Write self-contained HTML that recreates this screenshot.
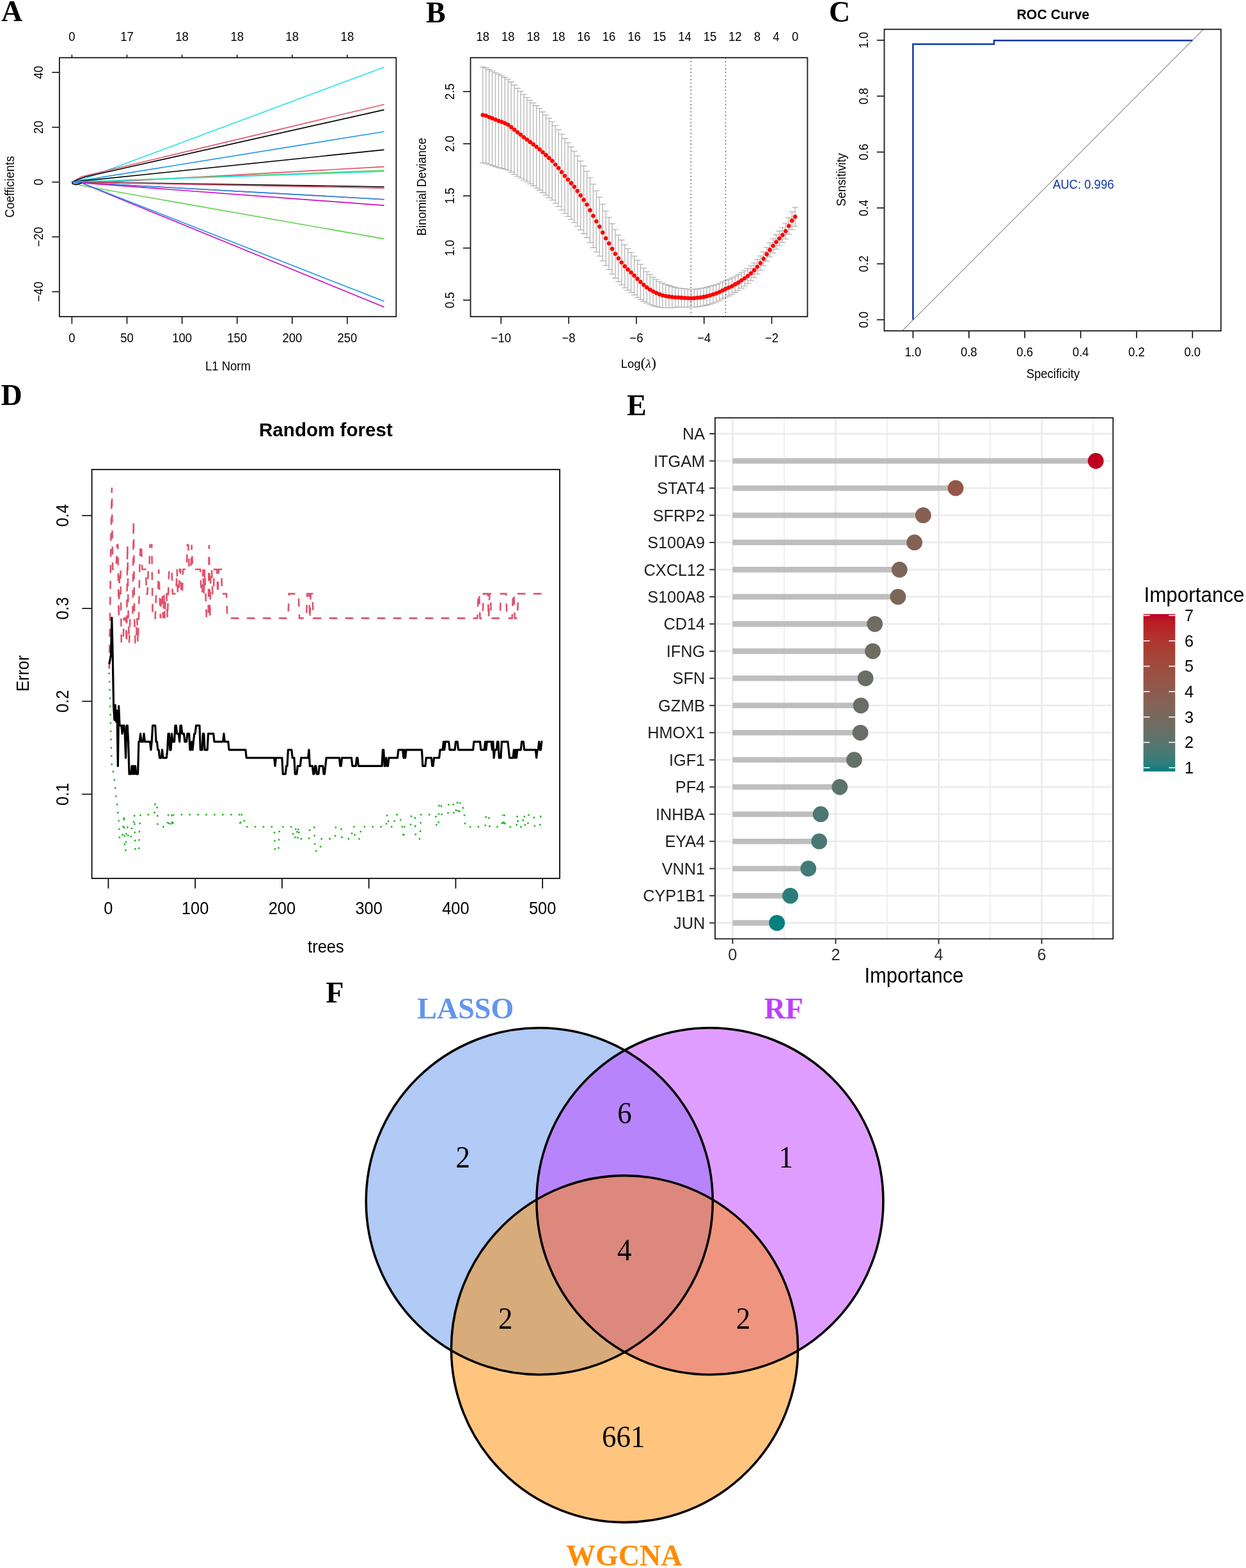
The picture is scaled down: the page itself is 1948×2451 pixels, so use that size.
<!DOCTYPE html>
<html><head><meta charset="utf-8"><title>Figure</title>
<style>html,body{margin:0;padding:0;background:#fff;}svg{display:block;}</style></head>
<body><svg width="1948" height="2451" viewBox="0 0 1948 2451">
<rect width="1948" height="2451" fill="#fff"/>
<text x="2.0" y="32.8" font-family="Liberation Serif, Times New Roman, serif" font-size="46" text-anchor="start" fill="#000" font-weight="bold">A</text>
<line x1="112.40" y1="494.90" x2="112.40" y2="506.20" stroke="#000" stroke-width="1.5"/>
<text transform="translate(112.40 534.60) scale(1 1.05)" font-family="Liberation Sans, Arial, sans-serif" font-size="18.5" text-anchor="middle" fill="#000">0</text>
<line x1="112.40" y1="90.20" x2="112.40" y2="85.60" stroke="#000" stroke-width="1.5"/>
<text transform="translate(112.40 63.90) scale(1 1.05)" font-family="Liberation Sans, Arial, sans-serif" font-size="18.5" text-anchor="middle" fill="#000">0</text>
<line x1="198.50" y1="494.90" x2="198.50" y2="506.20" stroke="#000" stroke-width="1.5"/>
<text transform="translate(198.50 534.60) scale(1 1.05)" font-family="Liberation Sans, Arial, sans-serif" font-size="18.5" text-anchor="middle" fill="#000">50</text>
<line x1="198.50" y1="90.20" x2="198.50" y2="85.60" stroke="#000" stroke-width="1.5"/>
<text transform="translate(198.50 63.90) scale(1 1.05)" font-family="Liberation Sans, Arial, sans-serif" font-size="18.5" text-anchor="middle" fill="#000">17</text>
<line x1="284.60" y1="494.90" x2="284.60" y2="506.20" stroke="#000" stroke-width="1.5"/>
<text transform="translate(284.60 534.60) scale(1 1.05)" font-family="Liberation Sans, Arial, sans-serif" font-size="18.5" text-anchor="middle" fill="#000">100</text>
<line x1="284.60" y1="90.20" x2="284.60" y2="85.60" stroke="#000" stroke-width="1.5"/>
<text transform="translate(284.60 63.90) scale(1 1.05)" font-family="Liberation Sans, Arial, sans-serif" font-size="18.5" text-anchor="middle" fill="#000">18</text>
<line x1="370.70" y1="494.90" x2="370.70" y2="506.20" stroke="#000" stroke-width="1.5"/>
<text transform="translate(370.70 534.60) scale(1 1.05)" font-family="Liberation Sans, Arial, sans-serif" font-size="18.5" text-anchor="middle" fill="#000">150</text>
<line x1="370.70" y1="90.20" x2="370.70" y2="85.60" stroke="#000" stroke-width="1.5"/>
<text transform="translate(370.70 63.90) scale(1 1.05)" font-family="Liberation Sans, Arial, sans-serif" font-size="18.5" text-anchor="middle" fill="#000">18</text>
<line x1="456.80" y1="494.90" x2="456.80" y2="506.20" stroke="#000" stroke-width="1.5"/>
<text transform="translate(456.80 534.60) scale(1 1.05)" font-family="Liberation Sans, Arial, sans-serif" font-size="18.5" text-anchor="middle" fill="#000">200</text>
<line x1="456.80" y1="90.20" x2="456.80" y2="85.60" stroke="#000" stroke-width="1.5"/>
<text transform="translate(456.80 63.90) scale(1 1.05)" font-family="Liberation Sans, Arial, sans-serif" font-size="18.5" text-anchor="middle" fill="#000">18</text>
<line x1="542.90" y1="494.90" x2="542.90" y2="506.20" stroke="#000" stroke-width="1.5"/>
<text transform="translate(542.90 534.60) scale(1 1.05)" font-family="Liberation Sans, Arial, sans-serif" font-size="18.5" text-anchor="middle" fill="#000">250</text>
<line x1="542.90" y1="90.20" x2="542.90" y2="85.60" stroke="#000" stroke-width="1.5"/>
<text transform="translate(542.90 63.90) scale(1 1.05)" font-family="Liberation Sans, Arial, sans-serif" font-size="18.5" text-anchor="middle" fill="#000">18</text>
<line x1="81.30" y1="113.20" x2="92.90" y2="113.20" stroke="#000" stroke-width="1.5"/>
<text transform="translate(67.00 113.20) rotate(-90) scale(1 1.05)" font-family="Liberation Sans, Arial, sans-serif" font-size="18.5" text-anchor="middle" fill="#000">40</text>
<line x1="81.30" y1="198.90" x2="92.90" y2="198.90" stroke="#000" stroke-width="1.5"/>
<text transform="translate(67.00 198.90) rotate(-90) scale(1 1.05)" font-family="Liberation Sans, Arial, sans-serif" font-size="18.5" text-anchor="middle" fill="#000">20</text>
<line x1="81.30" y1="284.60" x2="92.90" y2="284.60" stroke="#000" stroke-width="1.5"/>
<text transform="translate(67.00 284.60) rotate(-90) scale(1 1.05)" font-family="Liberation Sans, Arial, sans-serif" font-size="18.5" text-anchor="middle" fill="#000">0</text>
<line x1="81.30" y1="370.30" x2="92.90" y2="370.30" stroke="#000" stroke-width="1.5"/>
<text transform="translate(67.00 370.30) rotate(-90) scale(1 1.05)" font-family="Liberation Sans, Arial, sans-serif" font-size="18.5" text-anchor="middle" fill="#000">−20</text>
<line x1="81.30" y1="456.00" x2="92.90" y2="456.00" stroke="#000" stroke-width="1.5"/>
<text transform="translate(67.00 456.00) rotate(-90) scale(1 1.05)" font-family="Liberation Sans, Arial, sans-serif" font-size="18.5" text-anchor="middle" fill="#000">−40</text>
<text transform="translate(22.40 292.00) rotate(-90) scale(1 1.05)" font-family="Liberation Sans, Arial, sans-serif" font-size="18.5" text-anchor="middle" fill="#000">Coefficients</text>
<text transform="translate(356.40 579.10) scale(1 1.05)" font-family="Liberation Sans, Arial, sans-serif" font-size="18.5" text-anchor="middle" fill="#000">L1 Norm</text>
<polyline points="112.40,284.60 121.00,283.60 600.60,104.90" fill="none" stroke="#28E2E5" stroke-width="1.6" stroke-linejoin="round"/>
<polyline points="112.40,284.60 128.00,276.00 600.60,163.20" fill="none" stroke="#DF536B" stroke-width="1.6" stroke-linejoin="round"/>
<polyline points="112.40,284.60 133.00,276.50 600.60,171.60" fill="none" stroke="#000000" stroke-width="1.6" stroke-linejoin="round"/>
<polyline points="112.40,284.60 600.60,205.70" fill="none" stroke="#2297E6" stroke-width="1.6" stroke-linejoin="round"/>
<polyline points="112.40,284.60 600.60,234.10" fill="none" stroke="#000000" stroke-width="1.6" stroke-linejoin="round"/>
<polyline points="112.40,284.60 170.00,284.60 600.60,260.60" fill="none" stroke="#DF536B" stroke-width="1.6" stroke-linejoin="round"/>
<polyline points="112.40,284.60 600.60,266.40" fill="none" stroke="#61D04F" stroke-width="1.6" stroke-linejoin="round"/>
<polyline points="112.40,284.60 600.60,268.00" fill="none" stroke="#28E2E5" stroke-width="1.6" stroke-linejoin="round"/>
<polyline points="112.40,284.60 150.00,285.00 600.60,292.00" fill="none" stroke="#000000" stroke-width="1.6" stroke-linejoin="round"/>
<polyline points="112.40,284.60 600.60,294.10" fill="none" stroke="#DF536B" stroke-width="1.6" stroke-linejoin="round"/>
<polyline points="112.40,284.60 600.60,311.70" fill="none" stroke="#CD0BBC" stroke-width="1.6" stroke-linejoin="round"/>
<polyline points="112.40,284.60 600.60,311.70" fill="none" stroke="#2297E6" stroke-width="1.6" stroke-linejoin="round"/>
<polyline points="112.40,284.60 600.60,321.10" fill="none" stroke="#CD0BBC" stroke-width="1.6" stroke-linejoin="round"/>
<polyline points="112.40,284.60 126.00,289.80 600.60,373.40" fill="none" stroke="#61D04F" stroke-width="1.6" stroke-linejoin="round"/>
<polyline points="112.40,284.60 128.00,286.30 600.60,480.00" fill="none" stroke="#CD0BBC" stroke-width="1.6" stroke-linejoin="round"/>
<polyline points="112.40,284.60 128.00,286.00 600.60,471.10" fill="none" stroke="#2297E6" stroke-width="1.6" stroke-linejoin="round"/>
<polyline points="112.40,284.60 114.00,287.50 118.00,288.60 123.00,287.80 128.00,286.00" fill="none" stroke="#000" stroke-width="1.6" stroke-linejoin="round"/>
<rect x="92.90" y="90.20" width="526.50" height="404.70" fill="none" stroke="#222" stroke-width="1.9"/>
<text x="666.0" y="34.9" font-family="Liberation Serif, Times New Roman, serif" font-size="46" text-anchor="start" fill="#000" font-weight="bold">B</text>
<line x1="783.30" y1="494.90" x2="783.30" y2="506.20" stroke="#000" stroke-width="1.5"/>
<text transform="translate(783.30 534.60) scale(1 1.05)" font-family="Liberation Sans, Arial, sans-serif" font-size="18.5" text-anchor="middle" fill="#000">−10</text>
<line x1="889.10" y1="494.90" x2="889.10" y2="506.20" stroke="#000" stroke-width="1.5"/>
<text transform="translate(889.10 534.60) scale(1 1.05)" font-family="Liberation Sans, Arial, sans-serif" font-size="18.5" text-anchor="middle" fill="#000">−8</text>
<line x1="994.90" y1="494.90" x2="994.90" y2="506.20" stroke="#000" stroke-width="1.5"/>
<text transform="translate(994.90 534.60) scale(1 1.05)" font-family="Liberation Sans, Arial, sans-serif" font-size="18.5" text-anchor="middle" fill="#000">−6</text>
<line x1="1100.70" y1="494.90" x2="1100.70" y2="506.20" stroke="#000" stroke-width="1.5"/>
<text transform="translate(1100.70 534.60) scale(1 1.05)" font-family="Liberation Sans, Arial, sans-serif" font-size="18.5" text-anchor="middle" fill="#000">−4</text>
<line x1="1206.50" y1="494.90" x2="1206.50" y2="506.20" stroke="#000" stroke-width="1.5"/>
<text transform="translate(1206.50 534.60) scale(1 1.05)" font-family="Liberation Sans, Arial, sans-serif" font-size="18.5" text-anchor="middle" fill="#000">−2</text>
<line x1="724.00" y1="469.20" x2="735.60" y2="469.20" stroke="#000" stroke-width="1.5"/>
<text transform="translate(709.50 469.20) rotate(-90) scale(1 1.05)" font-family="Liberation Sans, Arial, sans-serif" font-size="18.5" text-anchor="middle" fill="#000">0.5</text>
<line x1="724.00" y1="387.70" x2="735.60" y2="387.70" stroke="#000" stroke-width="1.5"/>
<text transform="translate(709.50 387.70) rotate(-90) scale(1 1.05)" font-family="Liberation Sans, Arial, sans-serif" font-size="18.5" text-anchor="middle" fill="#000">1.0</text>
<line x1="724.00" y1="306.20" x2="735.60" y2="306.20" stroke="#000" stroke-width="1.5"/>
<text transform="translate(709.50 306.20) rotate(-90) scale(1 1.05)" font-family="Liberation Sans, Arial, sans-serif" font-size="18.5" text-anchor="middle" fill="#000">1.5</text>
<line x1="724.00" y1="224.70" x2="735.60" y2="224.70" stroke="#000" stroke-width="1.5"/>
<text transform="translate(709.50 224.70) rotate(-90) scale(1 1.05)" font-family="Liberation Sans, Arial, sans-serif" font-size="18.5" text-anchor="middle" fill="#000">2.0</text>
<line x1="724.00" y1="143.20" x2="735.60" y2="143.20" stroke="#000" stroke-width="1.5"/>
<text transform="translate(709.50 143.20) rotate(-90) scale(1 1.05)" font-family="Liberation Sans, Arial, sans-serif" font-size="18.5" text-anchor="middle" fill="#000">2.5</text>
<text transform="translate(666.00 292.00) rotate(-90) scale(1 1.05)" font-family="Liberation Sans, Arial, sans-serif" font-size="18.5" text-anchor="middle" fill="#000">Binomial Deviance</text>
<text x="998.4" y="574.9" font-family="Liberation Sans, Arial, sans-serif" font-size="18.5" text-anchor="middle" fill="#000">Log<tspan font-family="Liberation Serif, Times New Roman, serif" font-size="24">(</tspan><tspan font-family="Liberation Serif, Times New Roman, serif" font-style="italic" font-size="19.5">λ</tspan><tspan font-family="Liberation Serif, Times New Roman, serif" font-size="24">)</tspan></text>
<path d="M754.80,104.72V254.72M749.90,104.72H759.70M749.90,254.72H759.70M759.73,106.23V255.47M754.83,106.23H764.63M754.83,255.47H764.63M764.66,108.73V257.21M759.76,108.73H769.56M759.76,257.21H769.56M769.60,111.05V258.77M764.70,111.05H774.50M764.70,258.77H774.50M774.53,113.55V260.51M769.63,113.55H779.43M769.63,260.51H779.43M779.46,115.87V262.07M774.56,115.87H784.36M774.56,262.07H784.36M784.39,118.16V263.04M779.49,118.16H789.29M779.49,263.04H789.29M789.33,120.77V264.33M784.43,120.77H794.23M784.43,264.33H794.23M794.26,123.86V266.10M789.36,123.86H799.16M789.36,266.10H799.16M799.19,128.26V269.18M794.29,128.26H804.09M794.29,269.18H804.09M804.12,132.98V272.58M799.22,132.98H809.02M799.22,272.58H809.02M809.06,138.01V275.66M804.16,138.01H813.96M804.16,275.66H813.96M813.99,142.72V278.42M809.09,142.72H818.89M809.09,278.42H818.89M818.92,147.59V281.34M814.02,147.59H823.82M814.02,281.34H823.82M823.85,152.30V284.10M818.95,152.30H828.75M818.95,284.10H828.75M828.78,156.57V287.31M823.88,156.57H833.68M823.88,287.31H833.68M833.72,160.84V290.51M828.82,160.84H838.62M828.82,290.51H838.62M838.65,165.27V293.87M833.75,165.27H843.55M833.75,293.87H843.55M843.58,169.70V297.24M838.68,169.70H848.48M838.68,297.24H848.48M848.51,174.78V301.25M843.61,174.78H853.41M843.61,301.25H853.41M853.45,179.70V305.10M848.55,179.70H858.35M848.55,305.10H858.35M858.38,184.91V308.99M853.48,184.91H863.28M853.48,308.99H863.28M863.31,190.11V312.87M858.41,190.11H868.21M858.41,312.87H868.21M868.24,196.46V317.90M863.34,196.46H873.14M863.34,317.90H873.14M873.18,202.80V322.92M868.28,202.80H878.08M868.28,322.92H878.08M878.11,209.63V328.43M873.21,209.63H883.01M873.21,328.43H883.01M883.04,216.52V333.56M878.14,216.52H887.94M878.14,333.56H887.94M887.97,223.08V338.36M883.07,223.08H892.87M883.07,338.36H892.87M892.90,229.65V343.17M888.00,229.65H897.80M888.00,343.17H897.80M897.84,236.21V347.97M892.94,236.21H902.74M892.94,347.97H902.74M902.77,243.59V353.59M897.87,243.59H907.67M897.87,353.59H907.67M907.70,251.63V359.51M902.80,251.63H912.60M902.80,359.51H912.60M912.63,259.51V365.27M907.73,259.51H917.53M907.73,365.27H917.53M917.57,267.88V371.52M912.67,267.88H922.47M912.67,371.52H922.47M922.50,277.87V379.39M917.60,277.87H927.40M917.60,379.39H927.40M927.43,287.86V387.26M922.53,287.86H932.33M922.53,387.26H932.33M932.36,298.09V393.93M927.46,298.09H937.26M927.46,393.93H937.26M937.30,308.15V400.43M932.40,308.15H942.20M932.40,400.43H942.20M942.23,319.18V407.90M937.33,319.18H947.13M937.33,407.90H947.13M947.16,329.89V415.05M942.26,329.89H952.06M942.26,415.05H952.06M952.09,339.79V421.39M947.19,339.79H956.99M947.19,421.39H956.99M957.02,349.68V428.40M952.12,349.68H961.92M952.12,428.40H961.92M961.96,358.91V434.75M957.06,358.91H966.86M957.06,434.75H966.86M966.89,367.34V440.30M961.99,367.34H971.79M961.99,440.30H971.79M971.82,375.27V445.35M966.92,375.27H976.72M966.92,445.35H976.72M976.75,382.72V449.92M971.85,382.72H981.65M971.85,449.92H981.65M981.69,388.69V453.69M976.79,388.69H986.59M976.79,453.69H986.59M986.62,394.66V457.46M981.72,394.66H991.52M981.72,457.46H991.52M991.55,400.46V461.06M986.65,400.46H996.45M986.65,461.06H996.45M996.48,406.69V465.09M991.58,406.69H1001.38M991.58,465.09H1001.38M1001.41,413.07V468.34M996.51,413.07H1006.31M996.51,468.34H1006.31M1006.35,419.13V471.26M1001.45,419.13H1011.25M1001.45,471.26H1011.25M1011.28,424.71V473.71M1006.38,424.71H1016.18M1006.38,473.71H1016.18M1016.21,429.36V476.11M1011.31,429.36H1021.11M1011.31,476.11H1021.11M1021.14,433.37V477.87M1016.24,433.37H1026.04M1016.24,477.87H1026.04M1026.08,436.90V479.15M1021.18,436.90H1030.98M1021.18,479.15H1030.98M1031.01,440.12V480.12M1026.11,440.12H1035.91M1026.11,480.12H1035.91M1035.94,442.59V480.85M1031.04,442.59H1040.84M1031.04,480.85H1040.84M1040.87,444.58V481.11M1035.97,444.58H1045.77M1035.97,481.11H1045.77M1045.81,446.25V481.05M1040.91,446.25H1050.71M1040.91,481.05H1050.71M1050.74,447.75V480.82M1045.84,447.75H1055.64M1045.84,480.82H1055.64M1055.67,449.10V480.43M1050.77,449.10H1060.57M1050.77,480.43H1060.57M1060.60,450.29V479.89M1055.70,450.29H1065.50M1055.70,479.89H1065.50M1065.53,450.81V480.01M1060.63,450.81H1070.43M1060.63,480.01H1070.43M1070.47,451.33V480.13M1065.57,451.33H1075.37M1065.57,480.13H1075.37M1075.40,451.85V480.25M1070.50,451.85H1080.30M1070.50,480.25H1080.30M1080.33,452.21V480.21M1075.43,452.21H1085.23M1075.43,480.21H1085.23M1085.26,452.05V480.05M1080.36,452.05H1090.16M1080.36,480.05H1090.16M1090.20,451.57V479.57M1085.30,451.57H1095.10M1085.30,479.57H1095.10M1095.13,450.93V478.93M1090.23,450.93H1100.03M1090.23,478.93H1100.03M1100.06,450.13V478.13M1095.16,450.13H1104.96M1095.16,478.13H1104.96M1104.99,449.00V477.00M1100.09,449.00H1109.89M1100.09,477.00H1109.89M1109.93,447.72V475.72M1105.03,447.72H1114.83M1105.03,475.72H1114.83M1114.86,446.44V474.11M1109.96,446.44H1119.76M1109.96,474.11H1119.76M1119.79,444.84V472.18M1114.89,444.84H1124.69M1114.89,472.18H1124.69M1124.72,442.93V469.93M1119.82,442.93H1129.62M1119.82,469.93H1129.62M1129.65,440.69V467.35M1124.75,440.69H1134.55M1124.75,467.35H1134.55M1134.59,438.45V464.78M1129.69,438.45H1139.49M1129.69,464.78H1139.49M1139.52,436.53V462.53M1134.62,436.53H1144.42M1134.62,462.53H1144.42M1144.45,434.48V460.08M1139.55,434.48H1149.35M1139.55,460.08H1149.35M1149.38,431.79V456.99M1144.48,431.79H1154.28M1144.48,456.99H1154.28M1154.32,429.27V454.07M1149.42,429.27H1159.22M1149.42,454.07H1159.22M1159.25,426.10V450.50M1154.35,426.10H1164.15M1154.35,450.50H1164.15M1164.18,423.09V447.09M1159.28,423.09H1169.08M1159.28,447.09H1169.08M1169.11,419.76V443.36M1164.21,419.76H1174.01M1164.21,443.36H1174.01M1174.05,415.63V438.83M1169.15,415.63H1178.95M1169.15,438.83H1178.95M1178.98,410.97V433.85M1174.08,410.97H1183.88M1174.08,433.85H1183.88M1183.91,405.84V428.40M1179.01,405.84H1188.81M1179.01,428.40H1188.81M1188.84,400.06V422.30M1183.94,400.06H1193.74M1183.94,422.30H1193.74M1193.77,393.64V415.56M1188.87,393.64H1198.67M1188.87,415.56H1198.67M1198.71,386.58V408.18M1193.81,386.58H1203.61M1193.81,408.18H1203.61M1203.64,379.69V401.61M1198.74,379.69H1208.54M1198.74,401.61H1208.54M1208.57,373.11V395.35M1203.67,373.11H1213.47M1203.67,395.35H1213.47M1213.50,367.01V389.57M1208.60,367.01H1218.40M1208.60,389.57H1218.40M1218.44,361.24V384.12M1213.54,361.24H1223.34M1213.54,384.12H1223.34M1223.37,355.78V378.98M1218.47,355.78H1228.27M1218.47,378.98H1228.27M1228.30,348.89V373.69M1223.40,348.89H1233.20M1223.40,373.69H1233.20M1233.23,340.06V366.46M1228.33,340.06H1238.13M1228.33,366.46H1238.13M1238.17,330.92V358.92M1233.27,330.92H1243.07M1233.27,358.92H1243.07M1243.10,324.03V353.63M1238.20,324.03H1248.00M1238.20,353.63H1248.00" stroke="#B4B4B4" stroke-width="1.3" fill="none"/>
<line x1="1080.20" y1="90.20" x2="1080.20" y2="494.90" stroke="#333" stroke-width="1.4" stroke-dasharray="1.4 4.2"/>
<line x1="1134.40" y1="90.20" x2="1134.40" y2="494.90" stroke="#333" stroke-width="1.4" stroke-dasharray="1.4 4.2"/>
<g fill="#FF0000"><circle cx="754.80" cy="179.72" r="3.3"/><circle cx="759.73" cy="180.85" r="3.3"/><circle cx="764.66" cy="182.97" r="3.3"/><circle cx="769.60" cy="184.91" r="3.3"/><circle cx="774.53" cy="187.03" r="3.3"/><circle cx="779.46" cy="188.97" r="3.3"/><circle cx="784.39" cy="190.60" r="3.3"/><circle cx="789.33" cy="192.55" r="3.3"/><circle cx="794.26" cy="194.98" r="3.3"/><circle cx="799.19" cy="198.72" r="3.3"/><circle cx="804.12" cy="202.78" r="3.3"/><circle cx="809.06" cy="206.84" r="3.3"/><circle cx="813.99" cy="210.57" r="3.3"/><circle cx="818.92" cy="214.47" r="3.3"/><circle cx="823.85" cy="218.20" r="3.3"/><circle cx="828.78" cy="221.94" r="3.3"/><circle cx="833.72" cy="225.67" r="3.3"/><circle cx="838.65" cy="229.57" r="3.3"/><circle cx="843.58" cy="233.47" r="3.3"/><circle cx="848.51" cy="238.02" r="3.3"/><circle cx="853.45" cy="242.40" r="3.3"/><circle cx="858.38" cy="246.95" r="3.3"/><circle cx="863.31" cy="251.49" r="3.3"/><circle cx="868.24" cy="257.18" r="3.3"/><circle cx="873.18" cy="262.86" r="3.3"/><circle cx="878.11" cy="269.03" r="3.3"/><circle cx="883.04" cy="275.04" r="3.3"/><circle cx="887.97" cy="280.72" r="3.3"/><circle cx="892.90" cy="286.41" r="3.3"/><circle cx="897.84" cy="292.09" r="3.3"/><circle cx="902.77" cy="298.59" r="3.3"/><circle cx="907.70" cy="305.57" r="3.3"/><circle cx="912.63" cy="312.39" r="3.3"/><circle cx="917.57" cy="319.70" r="3.3"/><circle cx="922.50" cy="328.63" r="3.3"/><circle cx="927.43" cy="337.56" r="3.3"/><circle cx="932.36" cy="346.01" r="3.3"/><circle cx="937.30" cy="354.29" r="3.3"/><circle cx="942.23" cy="363.54" r="3.3"/><circle cx="947.16" cy="372.47" r="3.3"/><circle cx="952.09" cy="380.59" r="3.3"/><circle cx="957.02" cy="389.04" r="3.3"/><circle cx="961.96" cy="396.83" r="3.3"/><circle cx="966.89" cy="403.82" r="3.3"/><circle cx="971.82" cy="410.31" r="3.3"/><circle cx="976.75" cy="416.32" r="3.3"/><circle cx="981.69" cy="421.19" r="3.3"/><circle cx="986.62" cy="426.06" r="3.3"/><circle cx="991.55" cy="430.76" r="3.3"/><circle cx="996.48" cy="435.89" r="3.3"/><circle cx="1001.41" cy="440.70" r="3.3"/><circle cx="1006.35" cy="445.19" r="3.3"/><circle cx="1011.28" cy="449.21" r="3.3"/><circle cx="1016.21" cy="452.74" r="3.3"/><circle cx="1021.14" cy="455.62" r="3.3"/><circle cx="1026.08" cy="458.03" r="3.3"/><circle cx="1031.01" cy="460.12" r="3.3"/><circle cx="1035.94" cy="461.72" r="3.3"/><circle cx="1040.87" cy="462.84" r="3.3"/><circle cx="1045.81" cy="463.65" r="3.3"/><circle cx="1050.74" cy="464.29" r="3.3"/><circle cx="1055.67" cy="464.77" r="3.3"/><circle cx="1060.60" cy="465.09" r="3.3"/><circle cx="1065.53" cy="465.41" r="3.3"/><circle cx="1070.47" cy="465.73" r="3.3"/><circle cx="1075.40" cy="466.05" r="3.3"/><circle cx="1080.33" cy="466.21" r="3.3"/><circle cx="1085.26" cy="466.05" r="3.3"/><circle cx="1090.20" cy="465.57" r="3.3"/><circle cx="1095.13" cy="464.93" r="3.3"/><circle cx="1100.06" cy="464.13" r="3.3"/><circle cx="1104.99" cy="463.00" r="3.3"/><circle cx="1109.93" cy="461.72" r="3.3"/><circle cx="1114.86" cy="460.28" r="3.3"/><circle cx="1119.79" cy="458.51" r="3.3"/><circle cx="1124.72" cy="456.43" r="3.3"/><circle cx="1129.65" cy="454.02" r="3.3"/><circle cx="1134.59" cy="451.61" r="3.3"/><circle cx="1139.52" cy="449.53" r="3.3"/><circle cx="1144.45" cy="447.28" r="3.3"/><circle cx="1149.38" cy="444.39" r="3.3"/><circle cx="1154.32" cy="441.67" r="3.3"/><circle cx="1159.25" cy="438.30" r="3.3"/><circle cx="1164.18" cy="435.09" r="3.3"/><circle cx="1169.11" cy="431.56" r="3.3"/><circle cx="1174.05" cy="427.23" r="3.3"/><circle cx="1178.98" cy="422.41" r="3.3"/><circle cx="1183.91" cy="417.12" r="3.3"/><circle cx="1188.84" cy="411.18" r="3.3"/><circle cx="1193.77" cy="404.60" r="3.3"/><circle cx="1198.71" cy="397.38" r="3.3"/><circle cx="1203.64" cy="390.65" r="3.3"/><circle cx="1208.57" cy="384.23" r="3.3"/><circle cx="1213.50" cy="378.29" r="3.3"/><circle cx="1218.44" cy="372.68" r="3.3"/><circle cx="1223.37" cy="367.38" r="3.3"/><circle cx="1228.30" cy="361.29" r="3.3"/><circle cx="1233.23" cy="353.26" r="3.3"/><circle cx="1238.17" cy="344.92" r="3.3"/><circle cx="1243.10" cy="338.83" r="3.3"/></g>
<text transform="translate(754.80 63.90) scale(1 1.05)" font-family="Liberation Sans, Arial, sans-serif" font-size="18.5" text-anchor="middle" fill="#000">18</text>
<text transform="translate(794.26 63.90) scale(1 1.05)" font-family="Liberation Sans, Arial, sans-serif" font-size="18.5" text-anchor="middle" fill="#000">18</text>
<text transform="translate(833.72 63.90) scale(1 1.05)" font-family="Liberation Sans, Arial, sans-serif" font-size="18.5" text-anchor="middle" fill="#000">18</text>
<text transform="translate(873.18 63.90) scale(1 1.05)" font-family="Liberation Sans, Arial, sans-serif" font-size="18.5" text-anchor="middle" fill="#000">18</text>
<text transform="translate(912.63 63.90) scale(1 1.05)" font-family="Liberation Sans, Arial, sans-serif" font-size="18.5" text-anchor="middle" fill="#000">16</text>
<text transform="translate(952.09 63.90) scale(1 1.05)" font-family="Liberation Sans, Arial, sans-serif" font-size="18.5" text-anchor="middle" fill="#000">16</text>
<text transform="translate(991.55 63.90) scale(1 1.05)" font-family="Liberation Sans, Arial, sans-serif" font-size="18.5" text-anchor="middle" fill="#000">16</text>
<text transform="translate(1031.01 63.90) scale(1 1.05)" font-family="Liberation Sans, Arial, sans-serif" font-size="18.5" text-anchor="middle" fill="#000">15</text>
<text transform="translate(1070.47 63.90) scale(1 1.05)" font-family="Liberation Sans, Arial, sans-serif" font-size="18.5" text-anchor="middle" fill="#000">14</text>
<text transform="translate(1109.93 63.90) scale(1 1.05)" font-family="Liberation Sans, Arial, sans-serif" font-size="18.5" text-anchor="middle" fill="#000">15</text>
<text transform="translate(1149.38 63.90) scale(1 1.05)" font-family="Liberation Sans, Arial, sans-serif" font-size="18.5" text-anchor="middle" fill="#000">12</text>
<text transform="translate(1183.91 63.90) scale(1 1.05)" font-family="Liberation Sans, Arial, sans-serif" font-size="18.5" text-anchor="middle" fill="#000">8</text>
<text transform="translate(1213.50 63.90) scale(1 1.05)" font-family="Liberation Sans, Arial, sans-serif" font-size="18.5" text-anchor="middle" fill="#000">4</text>
<text transform="translate(1243.10 63.90) scale(1 1.05)" font-family="Liberation Sans, Arial, sans-serif" font-size="18.5" text-anchor="middle" fill="#000">0</text>
<rect x="735.60" y="90.20" width="526.80" height="404.70" fill="none" stroke="#222" stroke-width="1.9"/>
<text x="1296.0" y="33.5" font-family="Liberation Serif, Times New Roman, serif" font-size="46" text-anchor="start" fill="#000" font-weight="bold">C</text>
<text x="1646.3" y="30.4" font-family="Liberation Sans, Arial, sans-serif" font-size="21.3" text-anchor="middle" fill="#000" font-weight="bold">ROC Curve</text>
<line x1="1427.40" y1="517.20" x2="1427.40" y2="528.60" stroke="#000" stroke-width="1.6"/>
<text transform="translate(1427.40 557.20) scale(1 1.05)" font-family="Liberation Sans, Arial, sans-serif" font-size="18.5" text-anchor="middle" fill="#000">1.0</text>
<line x1="1370.90" y1="62.90" x2="1382.50" y2="62.90" stroke="#000" stroke-width="1.5"/>
<text transform="translate(1356.50 62.90) rotate(-90) scale(1 1.05)" font-family="Liberation Sans, Arial, sans-serif" font-size="18.5" text-anchor="middle" fill="#000">1.0</text>
<line x1="1514.78" y1="517.20" x2="1514.78" y2="528.60" stroke="#000" stroke-width="1.6"/>
<text transform="translate(1514.78 557.20) scale(1 1.05)" font-family="Liberation Sans, Arial, sans-serif" font-size="18.5" text-anchor="middle" fill="#000">0.8</text>
<line x1="1370.90" y1="150.28" x2="1382.50" y2="150.28" stroke="#000" stroke-width="1.5"/>
<text transform="translate(1356.50 150.28) rotate(-90) scale(1 1.05)" font-family="Liberation Sans, Arial, sans-serif" font-size="18.5" text-anchor="middle" fill="#000">0.8</text>
<line x1="1602.16" y1="517.20" x2="1602.16" y2="528.60" stroke="#000" stroke-width="1.6"/>
<text transform="translate(1602.16 557.20) scale(1 1.05)" font-family="Liberation Sans, Arial, sans-serif" font-size="18.5" text-anchor="middle" fill="#000">0.6</text>
<line x1="1370.90" y1="237.66" x2="1382.50" y2="237.66" stroke="#000" stroke-width="1.5"/>
<text transform="translate(1356.50 237.66) rotate(-90) scale(1 1.05)" font-family="Liberation Sans, Arial, sans-serif" font-size="18.5" text-anchor="middle" fill="#000">0.6</text>
<line x1="1689.54" y1="517.20" x2="1689.54" y2="528.60" stroke="#000" stroke-width="1.6"/>
<text transform="translate(1689.54 557.20) scale(1 1.05)" font-family="Liberation Sans, Arial, sans-serif" font-size="18.5" text-anchor="middle" fill="#000">0.4</text>
<line x1="1370.90" y1="325.04" x2="1382.50" y2="325.04" stroke="#000" stroke-width="1.5"/>
<text transform="translate(1356.50 325.04) rotate(-90) scale(1 1.05)" font-family="Liberation Sans, Arial, sans-serif" font-size="18.5" text-anchor="middle" fill="#000">0.4</text>
<line x1="1776.92" y1="517.20" x2="1776.92" y2="528.60" stroke="#000" stroke-width="1.6"/>
<text transform="translate(1776.92 557.20) scale(1 1.05)" font-family="Liberation Sans, Arial, sans-serif" font-size="18.5" text-anchor="middle" fill="#000">0.2</text>
<line x1="1370.90" y1="412.42" x2="1382.50" y2="412.42" stroke="#000" stroke-width="1.5"/>
<text transform="translate(1356.50 412.42) rotate(-90) scale(1 1.05)" font-family="Liberation Sans, Arial, sans-serif" font-size="18.5" text-anchor="middle" fill="#000">0.2</text>
<line x1="1864.30" y1="517.20" x2="1864.30" y2="528.60" stroke="#000" stroke-width="1.6"/>
<text transform="translate(1864.30 557.20) scale(1 1.05)" font-family="Liberation Sans, Arial, sans-serif" font-size="18.5" text-anchor="middle" fill="#000">0.0</text>
<line x1="1370.90" y1="499.80" x2="1382.50" y2="499.80" stroke="#000" stroke-width="1.5"/>
<text transform="translate(1356.50 499.80) rotate(-90) scale(1 1.05)" font-family="Liberation Sans, Arial, sans-serif" font-size="18.5" text-anchor="middle" fill="#000">0.0</text>
<text transform="translate(1322.30 281.00) rotate(-90) scale(1 1.05)" font-family="Liberation Sans, Arial, sans-serif" font-size="18.5" text-anchor="middle" fill="#000">Sensitivity</text>
<text transform="translate(1646.30 590.50) scale(1 1.05)" font-family="Liberation Sans, Arial, sans-serif" font-size="18.5" text-anchor="middle" fill="#000">Specificity</text>
<line x1="1410.50" y1="517.20" x2="1881.50" y2="45.80" stroke="#999" stroke-width="1.3"/>
<polyline points="1427.40,499.80 1427.40,68.90 1554.10,68.90 1554.10,63.30 1864.30,63.30" fill="none" stroke="#0A36A8" stroke-width="2.5" stroke-linejoin="miter"/>
<text transform="translate(1645.90 294.50) scale(1 1.05)" font-family="Liberation Sans, Arial, sans-serif" font-size="18.5" text-anchor="start" fill="#0A36A8">AUC: 0.996</text>
<rect x="1382.50" y="45.80" width="526.30" height="471.40" fill="none" stroke="#222" stroke-width="1.9"/>
<text x="1.5" y="633.3" font-family="Liberation Serif, Times New Roman, serif" font-size="46" text-anchor="start" fill="#000" font-weight="bold">D</text>
<line x1="169.40" y1="1373.10" x2="169.40" y2="1388.80" stroke="#000" stroke-width="1.7"/>
<text transform="translate(169.40 1429.20) scale(1 1.05)" font-family="Liberation Sans, Arial, sans-serif" font-size="25.5" text-anchor="middle" fill="#000">0</text>
<line x1="305.16" y1="1373.10" x2="305.16" y2="1388.80" stroke="#000" stroke-width="1.7"/>
<text transform="translate(305.16 1429.20) scale(1 1.05)" font-family="Liberation Sans, Arial, sans-serif" font-size="25.5" text-anchor="middle" fill="#000">100</text>
<line x1="440.92" y1="1373.10" x2="440.92" y2="1388.80" stroke="#000" stroke-width="1.7"/>
<text transform="translate(440.92 1429.20) scale(1 1.05)" font-family="Liberation Sans, Arial, sans-serif" font-size="25.5" text-anchor="middle" fill="#000">200</text>
<line x1="576.68" y1="1373.10" x2="576.68" y2="1388.80" stroke="#000" stroke-width="1.7"/>
<text transform="translate(576.68 1429.20) scale(1 1.05)" font-family="Liberation Sans, Arial, sans-serif" font-size="25.5" text-anchor="middle" fill="#000">300</text>
<line x1="712.44" y1="1373.10" x2="712.44" y2="1388.80" stroke="#000" stroke-width="1.7"/>
<text transform="translate(712.44 1429.20) scale(1 1.05)" font-family="Liberation Sans, Arial, sans-serif" font-size="25.5" text-anchor="middle" fill="#000">400</text>
<line x1="848.20" y1="1373.10" x2="848.20" y2="1388.80" stroke="#000" stroke-width="1.7"/>
<text transform="translate(848.20 1429.20) scale(1 1.05)" font-family="Liberation Sans, Arial, sans-serif" font-size="25.5" text-anchor="middle" fill="#000">500</text>
<line x1="128.30" y1="1241.50" x2="143.60" y2="1241.50" stroke="#000" stroke-width="1.6"/>
<text transform="translate(107.20 1241.50) rotate(-90) scale(1 1.05)" font-family="Liberation Sans, Arial, sans-serif" font-size="25.5" text-anchor="middle" fill="#000">0.1</text>
<line x1="128.30" y1="1096.30" x2="143.60" y2="1096.30" stroke="#000" stroke-width="1.6"/>
<text transform="translate(107.20 1096.30) rotate(-90) scale(1 1.05)" font-family="Liberation Sans, Arial, sans-serif" font-size="25.5" text-anchor="middle" fill="#000">0.2</text>
<line x1="128.30" y1="951.10" x2="143.60" y2="951.10" stroke="#000" stroke-width="1.6"/>
<text transform="translate(107.20 951.10) rotate(-90) scale(1 1.05)" font-family="Liberation Sans, Arial, sans-serif" font-size="25.5" text-anchor="middle" fill="#000">0.3</text>
<line x1="128.30" y1="805.90" x2="143.60" y2="805.90" stroke="#000" stroke-width="1.6"/>
<text transform="translate(107.20 805.90) rotate(-90) scale(1 1.05)" font-family="Liberation Sans, Arial, sans-serif" font-size="25.5" text-anchor="middle" fill="#000">0.4</text>
<text x="509.4" y="681.7" font-family="Liberation Sans, Arial, sans-serif" font-size="29.6" text-anchor="middle" fill="#000" font-weight="bold">Random forest</text>
<text transform="translate(45.30 1052.60) rotate(-90) scale(1 1.05)" font-family="Liberation Sans, Arial, sans-serif" font-size="25.5" text-anchor="middle" fill="#000">Error</text>
<text transform="translate(509.40 1489.00) scale(1 1.05)" font-family="Liberation Sans, Arial, sans-serif" font-size="25.5" text-anchor="middle" fill="#000">trees</text>
<clipPath id="clipD"><rect x="143.6" y="733.9" width="731.5" height="639.2"/></clipPath>
<polyline points="170.76,1045.48 172.12,951.10 173.47,842.20 174.83,762.34 176.19,889.96 177.55,889.96 178.90,889.96 180.26,889.96 181.62,889.96 182.98,851.75 184.33,851.75 185.69,966.38 187.05,889.96 188.41,889.96 189.76,1004.59 191.12,1004.59 192.48,1004.59 193.84,966.38 195.19,966.38 196.55,966.38 197.91,1004.59 199.27,851.75 200.62,966.38 201.98,1004.59 203.34,966.38 204.70,966.38 206.06,966.38 207.41,966.38 208.77,813.54 210.13,966.38 211.49,1004.59 212.84,1004.59 214.20,966.38 215.56,1004.59 216.92,966.38 218.27,889.96 219.63,851.75 220.99,851.75 222.35,889.96 223.70,889.96 225.06,889.96 226.42,889.96 227.78,889.96 229.13,928.17 230.49,928.17 231.85,889.96 233.21,889.96 234.56,851.75 235.92,851.75 237.28,851.75 238.64,966.38 240.00,966.38 241.35,966.38 242.71,966.38 244.07,928.17 245.43,928.17 246.78,928.17 248.14,889.96 249.50,928.17 250.86,966.38 252.21,928.17 253.57,928.17 254.93,966.38 256.29,928.17 257.64,966.38 259.00,928.17 260.36,928.17 261.72,966.38 263.07,928.17 264.43,889.96 265.79,889.96 267.15,889.96 268.50,889.96 269.86,928.17 271.22,928.17 272.58,928.17 273.94,928.17 275.29,928.17 276.65,889.96 278.01,928.17 279.37,928.17 280.72,889.96 282.08,889.96 283.44,928.17 284.80,928.17 286.15,889.96 287.51,889.96 288.87,889.96 290.23,889.96 291.58,889.96 292.94,851.75 294.30,851.75 295.66,889.96 297.01,889.96 298.37,889.96 299.73,851.75 301.09,889.96 302.44,889.96 303.80,889.96 305.16,889.96 306.52,889.96 307.88,889.96 309.23,889.96 310.59,889.96 311.95,889.96 313.31,889.96 314.66,928.17 316.02,928.17 317.38,889.96 318.74,928.17 320.09,889.96 321.45,928.17 322.81,966.38 324.17,966.38 325.52,966.38 326.88,851.75 328.24,966.38 329.60,889.96 330.95,889.96 332.31,928.17 333.67,928.17 335.03,889.96 336.38,889.96 337.74,889.96 339.10,889.96 340.46,928.17 341.82,889.96 343.17,889.96 344.53,889.96 345.89,889.96 347.25,928.17 348.60,928.17 349.96,928.17 351.32,928.17 352.68,928.17 354.03,928.17 355.39,966.38 356.75,966.38 358.11,966.38 359.46,966.38 360.82,966.38 362.18,966.38 363.54,966.38 364.89,966.38 366.25,966.38 367.61,966.38 368.97,966.38 370.32,966.38 371.68,966.38 373.04,966.38 374.40,966.38 375.76,966.38 377.11,966.38 378.47,966.38 379.83,966.38 381.19,966.38 382.54,966.38 383.90,966.38 385.26,966.38 386.62,966.38 387.97,966.38 389.33,966.38 390.69,966.38 392.05,966.38 393.40,966.38 394.76,966.38 396.12,966.38 397.48,966.38 398.83,966.38 400.19,966.38 401.55,966.38 402.91,966.38 404.26,966.38 405.62,966.38 406.98,966.38 408.34,966.38 409.70,966.38 411.05,966.38 412.41,966.38 413.77,966.38 415.13,966.38 416.48,966.38 417.84,966.38 419.20,966.38 420.56,966.38 421.91,966.38 423.27,966.38 424.63,966.38 425.99,966.38 427.34,966.38 428.70,966.38 430.06,966.38 431.42,966.38 432.77,966.38 434.13,966.38 435.49,966.38 436.85,966.38 438.20,966.38 439.56,966.38 440.92,966.38 442.28,966.38 443.64,966.38 444.99,966.38 446.35,966.38 447.71,966.38 449.07,966.38 450.42,966.38 451.78,928.17 453.14,928.17 454.50,928.17 455.85,928.17 457.21,928.17 458.57,928.17 459.93,928.17 461.28,928.17 462.64,928.17 464.00,928.17 465.36,928.17 466.71,928.17 468.07,966.38 469.43,966.38 470.79,966.38 472.14,966.38 473.50,966.38 474.86,966.38 476.22,966.38 477.58,966.38 478.93,966.38 480.29,928.17 481.65,928.17 483.01,928.17 484.36,966.38 485.72,928.17 487.08,928.17 488.44,928.17 489.79,966.38 491.15,966.38 492.51,966.38 493.87,966.38 495.22,966.38 496.58,966.38 497.94,966.38 499.30,966.38 500.65,966.38 502.01,966.38 503.37,966.38 504.73,966.38 506.08,966.38 507.44,966.38 508.80,966.38 510.16,966.38 511.52,966.38 512.87,966.38 514.23,966.38 515.59,966.38 516.95,966.38 518.30,966.38 519.66,966.38 521.02,966.38 522.38,966.38 523.73,966.38 525.09,966.38 526.45,966.38 527.81,966.38 529.16,966.38 530.52,966.38 531.88,966.38 533.24,966.38 534.59,966.38 535.95,966.38 537.31,966.38 538.67,966.38 540.02,966.38 541.38,966.38 542.74,966.38 544.10,966.38 545.46,966.38 546.81,966.38 548.17,966.38 549.53,966.38 550.89,966.38 552.24,966.38 553.60,966.38 554.96,966.38 556.32,966.38 557.67,966.38 559.03,966.38 560.39,966.38 561.75,966.38 563.10,966.38 564.46,966.38 565.82,966.38 567.18,966.38 568.53,966.38 569.89,966.38 571.25,966.38 572.61,966.38 573.96,966.38 575.32,966.38 576.68,966.38 578.04,966.38 579.40,966.38 580.75,966.38 582.11,966.38 583.47,966.38 584.83,966.38 586.18,966.38 587.54,966.38 588.90,966.38 590.26,966.38 591.61,966.38 592.97,966.38 594.33,966.38 595.69,966.38 597.04,966.38 598.40,966.38 599.76,966.38 601.12,966.38 602.47,966.38 603.83,966.38 605.19,966.38 606.55,966.38 607.90,966.38 609.26,966.38 610.62,966.38 611.98,966.38 613.34,966.38 614.69,966.38 616.05,966.38 617.41,966.38 618.77,966.38 620.12,966.38 621.48,966.38 622.84,966.38 624.20,966.38 625.55,966.38 626.91,966.38 628.27,966.38 629.63,966.38 630.98,966.38 632.34,966.38 633.70,966.38 635.06,966.38 636.41,966.38 637.77,966.38 639.13,966.38 640.49,966.38 641.84,966.38 643.20,966.38 644.56,966.38 645.92,966.38 647.28,966.38 648.63,966.38 649.99,966.38 651.35,966.38 652.71,966.38 654.06,966.38 655.42,966.38 656.78,966.38 658.14,966.38 659.49,966.38 660.85,966.38 662.21,966.38 663.57,966.38 664.92,966.38 666.28,966.38 667.64,966.38 669.00,966.38 670.35,966.38 671.71,966.38 673.07,966.38 674.43,966.38 675.78,966.38 677.14,966.38 678.50,966.38 679.86,966.38 681.22,966.38 682.57,966.38 683.93,966.38 685.29,966.38 686.65,966.38 688.00,966.38 689.36,966.38 690.72,966.38 692.08,966.38 693.43,966.38 694.79,966.38 696.15,966.38 697.51,966.38 698.86,966.38 700.22,966.38 701.58,966.38 702.94,966.38 704.29,966.38 705.65,966.38 707.01,966.38 708.37,966.38 709.72,966.38 711.08,966.38 712.44,966.38 713.80,966.38 715.16,966.38 716.51,966.38 717.87,966.38 719.23,966.38 720.59,966.38 721.94,966.38 723.30,966.38 724.66,966.38 726.02,966.38 727.37,966.38 728.73,966.38 730.09,966.38 731.45,966.38 732.80,966.38 734.16,966.38 735.52,966.38 736.88,966.38 738.23,966.38 739.59,966.38 740.95,966.38 742.31,966.38 743.66,966.38 745.02,966.38 746.38,966.38 747.74,928.17 749.10,928.17 750.45,966.38 751.81,966.38 753.17,966.38 754.53,966.38 755.88,928.17 757.24,928.17 758.60,928.17 759.96,928.17 761.31,928.17 762.67,928.17 764.03,966.38 765.39,928.17 766.74,928.17 768.10,966.38 769.46,966.38 770.82,966.38 772.17,966.38 773.53,966.38 774.89,966.38 776.25,966.38 777.60,966.38 778.96,966.38 780.32,966.38 781.68,966.38 783.04,928.17 784.39,928.17 785.75,928.17 787.11,928.17 788.47,928.17 789.82,928.17 791.18,928.17 792.54,966.38 793.90,966.38 795.25,966.38 796.61,966.38 797.97,966.38 799.33,966.38 800.68,966.38 802.04,928.17 803.40,928.17 804.76,966.38 806.11,966.38 807.47,966.38 808.83,966.38 810.19,928.17 811.54,928.17 812.90,928.17 814.26,928.17 815.62,928.17 816.98,928.17 818.33,928.17 819.69,928.17 821.05,928.17 822.41,928.17 823.76,928.17 825.12,928.17 826.48,928.17 827.84,928.17 829.19,928.17 830.55,928.17 831.91,928.17 833.27,928.17 834.62,928.17 835.98,928.17 837.34,928.17 838.70,928.17 840.05,928.17 841.41,928.17 842.77,928.17 844.13,928.17 845.48,928.17 846.84,928.17 848.20,928.17" fill="none" stroke="#DF536B" stroke-width="2.6" stroke-dasharray="12.5 12.5" clip-path="url(#clipD)"/>
<polyline points="170.76,1052.74 172.12,1096.30 173.47,1154.38 174.83,1197.94 176.19,1197.94 177.55,1212.46 178.90,1219.72 180.26,1234.24 181.62,1248.76 182.98,1256.02 184.33,1270.54 185.69,1282.16 187.05,1311.27 188.41,1311.27 189.76,1311.27 191.12,1311.27 192.48,1292.41 193.84,1273.56 195.19,1330.13 196.55,1330.13 197.91,1292.41 199.27,1292.41 200.62,1311.27 201.98,1311.27 203.34,1311.27 204.70,1311.27 206.06,1292.41 207.41,1292.41 208.77,1292.41 210.13,1273.56 211.49,1330.13 212.84,1330.13 214.20,1330.13 215.56,1330.13 216.92,1330.13 218.27,1292.41 219.63,1273.56 220.99,1273.56 222.35,1273.56 223.70,1273.56 225.06,1273.56 226.42,1273.56 227.78,1273.56 229.13,1273.56 230.49,1273.56 231.85,1273.56 233.21,1273.56 234.56,1273.56 235.92,1273.56 237.28,1273.56 238.64,1273.56 240.00,1273.56 241.35,1273.56 242.71,1254.70 244.07,1254.70 245.43,1254.70 246.78,1292.41 248.14,1292.41 249.50,1292.41 250.86,1292.41 252.21,1292.41 253.57,1292.41 254.93,1292.41 256.29,1292.41 257.64,1292.41 259.00,1292.41 260.36,1292.41 261.72,1292.41 263.07,1273.56 264.43,1292.41 265.79,1292.41 267.15,1292.41 268.50,1273.56 269.86,1292.41 271.22,1273.56 272.58,1273.56 273.94,1273.56 275.29,1273.56 276.65,1273.56 278.01,1273.56 279.37,1273.56 280.72,1273.56 282.08,1273.56 283.44,1273.56 284.80,1273.56 286.15,1273.56 287.51,1273.56 288.87,1273.56 290.23,1273.56 291.58,1273.56 292.94,1273.56 294.30,1273.56 295.66,1273.56 297.01,1273.56 298.37,1273.56 299.73,1273.56 301.09,1273.56 302.44,1273.56 303.80,1273.56 305.16,1273.56 306.52,1273.56 307.88,1273.56 309.23,1273.56 310.59,1273.56 311.95,1273.56 313.31,1273.56 314.66,1273.56 316.02,1273.56 317.38,1273.56 318.74,1273.56 320.09,1273.56 321.45,1273.56 322.81,1273.56 324.17,1273.56 325.52,1273.56 326.88,1273.56 328.24,1273.56 329.60,1273.56 330.95,1273.56 332.31,1273.56 333.67,1273.56 335.03,1273.56 336.38,1273.56 337.74,1273.56 339.10,1273.56 340.46,1273.56 341.82,1273.56 343.17,1273.56 344.53,1273.56 345.89,1273.56 347.25,1273.56 348.60,1273.56 349.96,1273.56 351.32,1273.56 352.68,1273.56 354.03,1273.56 355.39,1273.56 356.75,1273.56 358.11,1273.56 359.46,1273.56 360.82,1273.56 362.18,1273.56 363.54,1273.56 364.89,1273.56 366.25,1273.56 367.61,1273.56 368.97,1273.56 370.32,1273.56 371.68,1273.56 373.04,1273.56 374.40,1273.56 375.76,1292.41 377.11,1273.56 378.47,1273.56 379.83,1273.56 381.19,1273.56 382.54,1292.41 383.90,1292.41 385.26,1292.41 386.62,1292.41 387.97,1292.41 389.33,1292.41 390.69,1292.41 392.05,1292.41 393.40,1292.41 394.76,1292.41 396.12,1292.41 397.48,1292.41 398.83,1292.41 400.19,1292.41 401.55,1292.41 402.91,1292.41 404.26,1292.41 405.62,1292.41 406.98,1292.41 408.34,1292.41 409.70,1292.41 411.05,1292.41 412.41,1292.41 413.77,1292.41 415.13,1292.41 416.48,1292.41 417.84,1292.41 419.20,1292.41 420.56,1292.41 421.91,1292.41 423.27,1292.41 424.63,1292.41 425.99,1292.41 427.34,1292.41 428.70,1292.41 430.06,1330.13 431.42,1330.13 432.77,1330.13 434.13,1330.13 435.49,1330.13 436.85,1292.41 438.20,1292.41 439.56,1292.41 440.92,1292.41 442.28,1292.41 443.64,1292.41 444.99,1292.41 446.35,1292.41 447.71,1292.41 449.07,1292.41 450.42,1292.41 451.78,1292.41 453.14,1292.41 454.50,1292.41 455.85,1292.41 457.21,1292.41 458.57,1311.27 459.93,1311.27 461.28,1311.27 462.64,1292.41 464.00,1292.41 465.36,1311.27 466.71,1292.41 468.07,1311.27 469.43,1311.27 470.79,1311.27 472.14,1311.27 473.50,1311.27 474.86,1311.27 476.22,1311.27 477.58,1311.27 478.93,1311.27 480.29,1311.27 481.65,1311.27 483.01,1311.27 484.36,1292.41 485.72,1292.41 487.08,1292.41 488.44,1292.41 489.79,1292.41 491.15,1292.41 492.51,1330.13 493.87,1330.13 495.22,1330.13 496.58,1330.13 497.94,1330.13 499.30,1330.13 500.65,1330.13 502.01,1311.27 503.37,1311.27 504.73,1311.27 506.08,1311.27 507.44,1311.27 508.80,1311.27 510.16,1311.27 511.52,1311.27 512.87,1311.27 514.23,1311.27 515.59,1311.27 516.95,1311.27 518.30,1311.27 519.66,1311.27 521.02,1311.27 522.38,1311.27 523.73,1311.27 525.09,1292.41 526.45,1292.41 527.81,1292.41 529.16,1292.41 530.52,1292.41 531.88,1292.41 533.24,1292.41 534.59,1311.27 535.95,1311.27 537.31,1311.27 538.67,1311.27 540.02,1311.27 541.38,1311.27 542.74,1311.27 544.10,1311.27 545.46,1311.27 546.81,1311.27 548.17,1311.27 549.53,1311.27 550.89,1292.41 552.24,1292.41 553.60,1292.41 554.96,1311.27 556.32,1311.27 557.67,1311.27 559.03,1311.27 560.39,1311.27 561.75,1311.27 563.10,1311.27 564.46,1292.41 565.82,1292.41 567.18,1292.41 568.53,1292.41 569.89,1292.41 571.25,1292.41 572.61,1292.41 573.96,1292.41 575.32,1292.41 576.68,1292.41 578.04,1292.41 579.40,1292.41 580.75,1292.41 582.11,1292.41 583.47,1292.41 584.83,1292.41 586.18,1292.41 587.54,1292.41 588.90,1292.41 590.26,1292.41 591.61,1292.41 592.97,1292.41 594.33,1292.41 595.69,1292.41 597.04,1292.41 598.40,1292.41 599.76,1292.41 601.12,1292.41 602.47,1292.41 603.83,1292.41 605.19,1273.56 606.55,1273.56 607.90,1292.41 609.26,1292.41 610.62,1292.41 611.98,1292.41 613.34,1292.41 614.69,1292.41 616.05,1292.41 617.41,1273.56 618.77,1273.56 620.12,1273.56 621.48,1273.56 622.84,1273.56 624.20,1273.56 625.55,1273.56 626.91,1292.41 628.27,1292.41 629.63,1292.41 630.98,1311.27 632.34,1292.41 633.70,1292.41 635.06,1292.41 636.41,1292.41 637.77,1292.41 639.13,1292.41 640.49,1292.41 641.84,1292.41 643.20,1273.56 644.56,1273.56 645.92,1273.56 647.28,1273.56 648.63,1273.56 649.99,1311.27 651.35,1311.27 652.71,1311.27 654.06,1311.27 655.42,1311.27 656.78,1311.27 658.14,1273.56 659.49,1273.56 660.85,1273.56 662.21,1273.56 663.57,1273.56 664.92,1273.56 666.28,1273.56 667.64,1273.56 669.00,1273.56 670.35,1273.56 671.71,1273.56 673.07,1273.56 674.43,1273.56 675.78,1273.56 677.14,1273.56 678.50,1273.56 679.86,1273.56 681.22,1273.56 682.57,1292.41 683.93,1292.41 685.29,1292.41 686.65,1254.70 688.00,1254.70 689.36,1254.70 690.72,1273.56 692.08,1273.56 693.43,1273.56 694.79,1273.56 696.15,1273.56 697.51,1273.56 698.86,1273.56 700.22,1273.56 701.58,1254.70 702.94,1254.70 704.29,1254.70 705.65,1254.70 707.01,1254.70 708.37,1254.70 709.72,1273.56 711.08,1273.56 712.44,1273.56 713.80,1254.70 715.16,1254.70 716.51,1273.56 717.87,1273.56 719.23,1254.70 720.59,1254.70 721.94,1254.70 723.30,1254.70 724.66,1273.56 726.02,1273.56 727.37,1292.41 728.73,1292.41 730.09,1292.41 731.45,1292.41 732.80,1292.41 734.16,1292.41 735.52,1292.41 736.88,1292.41 738.23,1292.41 739.59,1292.41 740.95,1292.41 742.31,1292.41 743.66,1292.41 745.02,1292.41 746.38,1292.41 747.74,1292.41 749.10,1292.41 750.45,1292.41 751.81,1292.41 753.17,1292.41 754.53,1292.41 755.88,1292.41 757.24,1292.41 758.60,1292.41 759.96,1273.56 761.31,1273.56 762.67,1273.56 764.03,1273.56 765.39,1292.41 766.74,1292.41 768.10,1292.41 769.46,1292.41 770.82,1292.41 772.17,1292.41 773.53,1292.41 774.89,1292.41 776.25,1292.41 777.60,1292.41 778.96,1292.41 780.32,1292.41 781.68,1292.41 783.04,1292.41 784.39,1292.41 785.75,1273.56 787.11,1292.41 788.47,1273.56 789.82,1292.41 791.18,1292.41 792.54,1292.41 793.90,1292.41 795.25,1292.41 796.61,1292.41 797.97,1292.41 799.33,1292.41 800.68,1292.41 802.04,1292.41 803.40,1292.41 804.76,1292.41 806.11,1292.41 807.47,1292.41 808.83,1273.56 810.19,1292.41 811.54,1292.41 812.90,1292.41 814.26,1292.41 815.62,1292.41 816.98,1292.41 818.33,1273.56 819.69,1273.56 821.05,1292.41 822.41,1292.41 823.76,1292.41 825.12,1292.41 826.48,1273.56 827.84,1273.56 829.19,1273.56 830.55,1273.56 831.91,1273.56 833.27,1273.56 834.62,1273.56 835.98,1292.41 837.34,1292.41 838.70,1292.41 840.05,1292.41 841.41,1292.41 842.77,1292.41 844.13,1292.41 845.48,1273.56 846.84,1273.56 848.20,1273.56" fill="none" stroke="#22B422" stroke-width="2.9" stroke-dasharray="0.01 12.9" stroke-linecap="round" clip-path="url(#clipD)"/>
<polyline points="170.76,1038.22 172.12,1030.96 173.47,1023.70 174.83,965.62 176.19,1023.70 177.55,1102.11 178.90,1125.34 180.26,1102.11 181.62,1128.24 182.98,1110.82 184.33,1197.36 185.69,1103.56 187.05,1134.18 188.41,1134.18 189.76,1134.18 191.12,1146.80 192.48,1134.18 193.84,1134.18 195.19,1146.80 196.55,1184.68 197.91,1134.18 199.27,1134.18 200.62,1159.43 201.98,1209.93 203.34,1209.93 204.70,1209.93 206.06,1197.31 207.41,1209.93 208.77,1197.31 210.13,1209.93 211.49,1197.31 212.84,1209.93 214.20,1209.93 215.56,1209.93 216.92,1159.43 218.27,1159.43 219.63,1146.80 220.99,1159.43 222.35,1159.43 223.70,1159.43 225.06,1146.80 226.42,1159.43 227.78,1159.43 229.13,1159.43 230.49,1159.43 231.85,1159.43 233.21,1159.43 234.56,1159.43 235.92,1172.06 237.28,1159.43 238.64,1134.18 240.00,1134.18 241.35,1134.18 242.71,1134.18 244.07,1159.43 245.43,1159.43 246.78,1172.06 248.14,1172.06 249.50,1184.68 250.86,1184.68 252.21,1184.68 253.57,1172.06 254.93,1184.68 256.29,1184.68 257.64,1184.68 259.00,1184.68 260.36,1184.68 261.72,1172.06 263.07,1146.80 264.43,1146.80 265.79,1172.06 267.15,1172.06 268.50,1146.80 269.86,1159.43 271.22,1159.43 272.58,1159.43 273.94,1134.18 275.29,1134.18 276.65,1146.80 278.01,1146.80 279.37,1146.80 280.72,1159.43 282.08,1134.18 283.44,1134.18 284.80,1146.80 286.15,1146.80 287.51,1146.80 288.87,1159.43 290.23,1159.43 291.58,1159.43 292.94,1146.80 294.30,1146.80 295.66,1146.80 297.01,1172.06 298.37,1172.06 299.73,1159.43 301.09,1172.06 302.44,1159.43 303.80,1146.80 305.16,1146.80 306.52,1134.18 307.88,1134.18 309.23,1134.18 310.59,1134.18 311.95,1134.18 313.31,1172.06 314.66,1172.06 316.02,1172.06 317.38,1146.80 318.74,1146.80 320.09,1172.06 321.45,1172.06 322.81,1172.06 324.17,1172.06 325.52,1146.80 326.88,1146.80 328.24,1146.80 329.60,1146.80 330.95,1146.80 332.31,1146.80 333.67,1146.80 335.03,1159.43 336.38,1159.43 337.74,1159.43 339.10,1159.43 340.46,1159.43 341.82,1159.43 343.17,1159.43 344.53,1159.43 345.89,1159.43 347.25,1159.43 348.60,1159.43 349.96,1146.80 351.32,1159.43 352.68,1159.43 354.03,1159.43 355.39,1159.43 356.75,1159.43 358.11,1172.06 359.46,1172.06 360.82,1172.06 362.18,1172.06 363.54,1172.06 364.89,1172.06 366.25,1172.06 367.61,1172.06 368.97,1172.06 370.32,1172.06 371.68,1172.06 373.04,1172.06 374.40,1172.06 375.76,1172.06 377.11,1172.06 378.47,1172.06 379.83,1172.06 381.19,1172.06 382.54,1172.06 383.90,1172.06 385.26,1184.68 386.62,1184.68 387.97,1184.68 389.33,1184.68 390.69,1184.68 392.05,1184.68 393.40,1184.68 394.76,1184.68 396.12,1184.68 397.48,1184.68 398.83,1184.68 400.19,1184.68 401.55,1184.68 402.91,1184.68 404.26,1184.68 405.62,1184.68 406.98,1184.68 408.34,1184.68 409.70,1184.68 411.05,1184.68 412.41,1184.68 413.77,1184.68 415.13,1184.68 416.48,1184.68 417.84,1184.68 419.20,1184.68 420.56,1184.68 421.91,1184.68 423.27,1184.68 424.63,1184.68 425.99,1184.68 427.34,1184.68 428.70,1184.68 430.06,1197.31 431.42,1184.68 432.77,1184.68 434.13,1184.68 435.49,1184.68 436.85,1184.68 438.20,1184.68 439.56,1184.68 440.92,1184.68 442.28,1209.93 443.64,1209.93 444.99,1209.93 446.35,1209.93 447.71,1197.31 449.07,1197.31 450.42,1172.06 451.78,1172.06 453.14,1172.06 454.50,1172.06 455.85,1172.06 457.21,1184.68 458.57,1184.68 459.93,1184.68 461.28,1209.93 462.64,1209.93 464.00,1209.93 465.36,1197.31 466.71,1197.31 468.07,1197.31 469.43,1197.31 470.79,1184.68 472.14,1184.68 473.50,1184.68 474.86,1184.68 476.22,1184.68 477.58,1184.68 478.93,1184.68 480.29,1184.68 481.65,1184.68 483.01,1172.06 484.36,1197.31 485.72,1197.31 487.08,1197.31 488.44,1197.31 489.79,1209.93 491.15,1209.93 492.51,1197.31 493.87,1197.31 495.22,1209.93 496.58,1209.93 497.94,1209.93 499.30,1197.31 500.65,1197.31 502.01,1197.31 503.37,1197.31 504.73,1197.31 506.08,1209.93 507.44,1209.93 508.80,1197.31 510.16,1184.68 511.52,1184.68 512.87,1184.68 514.23,1184.68 515.59,1184.68 516.95,1184.68 518.30,1184.68 519.66,1184.68 521.02,1184.68 522.38,1184.68 523.73,1184.68 525.09,1184.68 526.45,1184.68 527.81,1184.68 529.16,1184.68 530.52,1184.68 531.88,1197.31 533.24,1197.31 534.59,1184.68 535.95,1184.68 537.31,1184.68 538.67,1184.68 540.02,1184.68 541.38,1184.68 542.74,1184.68 544.10,1184.68 545.46,1184.68 546.81,1184.68 548.17,1184.68 549.53,1184.68 550.89,1197.31 552.24,1197.31 553.60,1197.31 554.96,1197.31 556.32,1197.31 557.67,1184.68 559.03,1184.68 560.39,1197.31 561.75,1197.31 563.10,1197.31 564.46,1197.31 565.82,1197.31 567.18,1197.31 568.53,1197.31 569.89,1197.31 571.25,1197.31 572.61,1197.31 573.96,1197.31 575.32,1197.31 576.68,1197.31 578.04,1197.31 579.40,1197.31 580.75,1197.31 582.11,1197.31 583.47,1197.31 584.83,1197.31 586.18,1197.31 587.54,1197.31 588.90,1197.31 590.26,1197.31 591.61,1197.31 592.97,1197.31 594.33,1197.31 595.69,1197.31 597.04,1197.31 598.40,1172.06 599.76,1172.06 601.12,1197.31 602.47,1197.31 603.83,1184.68 605.19,1197.31 606.55,1197.31 607.90,1184.68 609.26,1184.68 610.62,1184.68 611.98,1184.68 613.34,1184.68 614.69,1184.68 616.05,1184.68 617.41,1184.68 618.77,1184.68 620.12,1184.68 621.48,1184.68 622.84,1172.06 624.20,1172.06 625.55,1172.06 626.91,1172.06 628.27,1172.06 629.63,1172.06 630.98,1184.68 632.34,1172.06 633.70,1184.68 635.06,1172.06 636.41,1172.06 637.77,1172.06 639.13,1172.06 640.49,1172.06 641.84,1172.06 643.20,1172.06 644.56,1172.06 645.92,1172.06 647.28,1172.06 648.63,1172.06 649.99,1172.06 651.35,1172.06 652.71,1172.06 654.06,1172.06 655.42,1172.06 656.78,1172.06 658.14,1172.06 659.49,1172.06 660.85,1197.31 662.21,1197.31 663.57,1197.31 664.92,1197.31 666.28,1184.68 667.64,1184.68 669.00,1184.68 670.35,1184.68 671.71,1184.68 673.07,1184.68 674.43,1184.68 675.78,1197.31 677.14,1197.31 678.50,1184.68 679.86,1184.68 681.22,1184.68 682.57,1184.68 683.93,1184.68 685.29,1184.68 686.65,1184.68 688.00,1172.06 689.36,1172.06 690.72,1172.06 692.08,1172.06 693.43,1159.43 694.79,1172.06 696.15,1159.43 697.51,1159.43 698.86,1159.43 700.22,1159.43 701.58,1159.43 702.94,1172.06 704.29,1172.06 705.65,1172.06 707.01,1172.06 708.37,1172.06 709.72,1172.06 711.08,1172.06 712.44,1159.43 713.80,1159.43 715.16,1159.43 716.51,1172.06 717.87,1172.06 719.23,1172.06 720.59,1172.06 721.94,1172.06 723.30,1172.06 724.66,1172.06 726.02,1172.06 727.37,1172.06 728.73,1172.06 730.09,1172.06 731.45,1172.06 732.80,1172.06 734.16,1172.06 735.52,1172.06 736.88,1172.06 738.23,1172.06 739.59,1172.06 740.95,1159.43 742.31,1159.43 743.66,1159.43 745.02,1159.43 746.38,1159.43 747.74,1159.43 749.10,1159.43 750.45,1159.43 751.81,1172.06 753.17,1172.06 754.53,1172.06 755.88,1172.06 757.24,1172.06 758.60,1159.43 759.96,1172.06 761.31,1159.43 762.67,1159.43 764.03,1159.43 765.39,1159.43 766.74,1159.43 768.10,1159.43 769.46,1172.06 770.82,1159.43 772.17,1184.68 773.53,1172.06 774.89,1172.06 776.25,1172.06 777.60,1159.43 778.96,1159.43 780.32,1184.68 781.68,1184.68 783.04,1184.68 784.39,1159.43 785.75,1159.43 787.11,1159.43 788.47,1159.43 789.82,1159.43 791.18,1159.43 792.54,1159.43 793.90,1159.43 795.25,1172.06 796.61,1184.68 797.97,1184.68 799.33,1184.68 800.68,1184.68 802.04,1184.68 803.40,1172.06 804.76,1184.68 806.11,1172.06 807.47,1184.68 808.83,1172.06 810.19,1172.06 811.54,1172.06 812.90,1172.06 814.26,1172.06 815.62,1159.43 816.98,1159.43 818.33,1159.43 819.69,1172.06 821.05,1172.06 822.41,1172.06 823.76,1172.06 825.12,1172.06 826.48,1172.06 827.84,1172.06 829.19,1172.06 830.55,1172.06 831.91,1172.06 833.27,1172.06 834.62,1172.06 835.98,1172.06 837.34,1172.06 838.70,1184.68 840.05,1172.06 841.41,1172.06 842.77,1159.43 844.13,1172.06 845.48,1172.06 846.84,1159.43 848.20,1159.43" fill="none" stroke="#000" stroke-width="3.2" stroke-linejoin="round" clip-path="url(#clipD)"/>
<rect x="143.60" y="733.90" width="731.50" height="639.20" fill="none" stroke="#111" stroke-width="1.9"/>
<text x="980.0" y="649.0" font-family="Liberation Serif, Times New Roman, serif" font-size="46" text-anchor="start" fill="#000" font-weight="bold">E</text>
<path d="M1225.93,653.20V1467.50M1386.99,653.20V1467.50M1548.05,653.20V1467.50M1709.11,653.20V1467.50" stroke="#EBEBEB" stroke-width="1.5" fill="none"/>
<path d="M1145.40,653.20V1467.50M1306.46,653.20V1467.50M1467.52,653.20V1467.50M1628.58,653.20V1467.50M1117.90,678.00H1740.20M1117.90,720.48H1740.20M1117.90,762.96H1740.20M1117.90,805.44H1740.20M1117.90,847.92H1740.20M1117.90,890.40H1740.20M1117.90,932.88H1740.20M1117.90,975.36H1740.20M1117.90,1017.84H1740.20M1117.90,1060.32H1740.20M1117.90,1102.80H1740.20M1117.90,1145.28H1740.20M1117.90,1187.76H1740.20M1117.90,1230.24H1740.20M1117.90,1272.72H1740.20M1117.90,1315.20H1740.20M1117.90,1357.68H1740.20M1117.90,1400.16H1740.20M1117.90,1442.64H1740.20" stroke="#EBEBEB" stroke-width="2.6" fill="none"/>
<path d="M1145.40,720.48H1713.14M1145.40,762.96H1494.09M1145.40,805.44H1443.36M1145.40,847.92H1429.67M1145.40,890.40H1406.32M1145.40,932.88H1403.90M1145.40,975.36H1367.66M1145.40,1017.84H1364.44M1145.40,1060.32H1353.17M1145.40,1102.80H1345.92M1145.40,1145.28H1345.11M1145.40,1187.76H1335.45M1145.40,1230.24H1312.90M1145.40,1272.72H1283.11M1145.40,1315.20H1280.69M1145.40,1357.68H1263.78M1145.40,1400.16H1235.59M1145.40,1442.64H1214.66" stroke="#BEBEBE" stroke-width="8.6" fill="none"/>
<circle cx="1713.14" cy="720.48" r="12.4" fill="#BE0020"/><circle cx="1494.09" cy="762.96" r="12.4" fill="#935749"/><circle cx="1443.36" cy="805.44" r="12.4" fill="#876053"/><circle cx="1429.67" cy="847.92" r="12.4" fill="#836255"/><circle cx="1406.32" cy="890.40" r="12.4" fill="#7C665A"/><circle cx="1403.90" cy="932.88" r="12.4" fill="#7C665A"/><circle cx="1367.66" cy="975.36" r="12.4" fill="#706C61"/><circle cx="1364.44" cy="1017.84" r="12.4" fill="#6F6C62"/><circle cx="1353.17" cy="1060.32" r="12.4" fill="#6B6E64"/><circle cx="1345.92" cy="1102.80" r="12.4" fill="#696F66"/><circle cx="1345.11" cy="1145.28" r="12.4" fill="#686F66"/><circle cx="1335.45" cy="1187.76" r="12.4" fill="#657068"/><circle cx="1312.90" cy="1230.24" r="12.4" fill="#5B736C"/><circle cx="1283.11" cy="1272.72" r="12.4" fill="#4D7772"/><circle cx="1280.69" cy="1315.20" r="12.4" fill="#4C7873"/><circle cx="1263.78" cy="1357.68" r="12.4" fill="#417A76"/><circle cx="1235.59" cy="1400.16" r="12.4" fill="#2A7D7C"/><circle cx="1214.66" cy="1442.64" r="12.4" fill="#008080"/>
<rect x="1117.90" y="653.20" width="622.30" height="814.30" fill="none" stroke="#1A1A1A" stroke-width="1.8"/>
<line x1="1109.20" y1="678.00" x2="1117.90" y2="678.00" stroke="#333" stroke-width="2"/>
<text transform="translate(1102.20 687.10) scale(1 1.05)" font-family="Liberation Sans, Arial, sans-serif" font-size="25.3" text-anchor="end" fill="#1E1E1E">NA</text>
<line x1="1109.20" y1="720.48" x2="1117.90" y2="720.48" stroke="#333" stroke-width="2"/>
<text transform="translate(1102.20 729.58) scale(1 1.05)" font-family="Liberation Sans, Arial, sans-serif" font-size="25.3" text-anchor="end" fill="#1E1E1E">ITGAM</text>
<line x1="1109.20" y1="762.96" x2="1117.90" y2="762.96" stroke="#333" stroke-width="2"/>
<text transform="translate(1102.20 772.06) scale(1 1.05)" font-family="Liberation Sans, Arial, sans-serif" font-size="25.3" text-anchor="end" fill="#1E1E1E">STAT4</text>
<line x1="1109.20" y1="805.44" x2="1117.90" y2="805.44" stroke="#333" stroke-width="2"/>
<text transform="translate(1102.20 814.54) scale(1 1.05)" font-family="Liberation Sans, Arial, sans-serif" font-size="25.3" text-anchor="end" fill="#1E1E1E">SFRP2</text>
<line x1="1109.20" y1="847.92" x2="1117.90" y2="847.92" stroke="#333" stroke-width="2"/>
<text transform="translate(1102.20 857.02) scale(1 1.05)" font-family="Liberation Sans, Arial, sans-serif" font-size="25.3" text-anchor="end" fill="#1E1E1E">S100A9</text>
<line x1="1109.20" y1="890.40" x2="1117.90" y2="890.40" stroke="#333" stroke-width="2"/>
<text transform="translate(1102.20 899.50) scale(1 1.05)" font-family="Liberation Sans, Arial, sans-serif" font-size="25.3" text-anchor="end" fill="#1E1E1E">CXCL12</text>
<line x1="1109.20" y1="932.88" x2="1117.90" y2="932.88" stroke="#333" stroke-width="2"/>
<text transform="translate(1102.20 941.98) scale(1 1.05)" font-family="Liberation Sans, Arial, sans-serif" font-size="25.3" text-anchor="end" fill="#1E1E1E">S100A8</text>
<line x1="1109.20" y1="975.36" x2="1117.90" y2="975.36" stroke="#333" stroke-width="2"/>
<text transform="translate(1102.20 984.46) scale(1 1.05)" font-family="Liberation Sans, Arial, sans-serif" font-size="25.3" text-anchor="end" fill="#1E1E1E">CD14</text>
<line x1="1109.20" y1="1017.84" x2="1117.90" y2="1017.84" stroke="#333" stroke-width="2"/>
<text transform="translate(1102.20 1026.94) scale(1 1.05)" font-family="Liberation Sans, Arial, sans-serif" font-size="25.3" text-anchor="end" fill="#1E1E1E">IFNG</text>
<line x1="1109.20" y1="1060.32" x2="1117.90" y2="1060.32" stroke="#333" stroke-width="2"/>
<text transform="translate(1102.20 1069.42) scale(1 1.05)" font-family="Liberation Sans, Arial, sans-serif" font-size="25.3" text-anchor="end" fill="#1E1E1E">SFN</text>
<line x1="1109.20" y1="1102.80" x2="1117.90" y2="1102.80" stroke="#333" stroke-width="2"/>
<text transform="translate(1102.20 1111.90) scale(1 1.05)" font-family="Liberation Sans, Arial, sans-serif" font-size="25.3" text-anchor="end" fill="#1E1E1E">GZMB</text>
<line x1="1109.20" y1="1145.28" x2="1117.90" y2="1145.28" stroke="#333" stroke-width="2"/>
<text transform="translate(1102.20 1154.38) scale(1 1.05)" font-family="Liberation Sans, Arial, sans-serif" font-size="25.3" text-anchor="end" fill="#1E1E1E">HMOX1</text>
<line x1="1109.20" y1="1187.76" x2="1117.90" y2="1187.76" stroke="#333" stroke-width="2"/>
<text transform="translate(1102.20 1196.86) scale(1 1.05)" font-family="Liberation Sans, Arial, sans-serif" font-size="25.3" text-anchor="end" fill="#1E1E1E">IGF1</text>
<line x1="1109.20" y1="1230.24" x2="1117.90" y2="1230.24" stroke="#333" stroke-width="2"/>
<text transform="translate(1102.20 1239.34) scale(1 1.05)" font-family="Liberation Sans, Arial, sans-serif" font-size="25.3" text-anchor="end" fill="#1E1E1E">PF4</text>
<line x1="1109.20" y1="1272.72" x2="1117.90" y2="1272.72" stroke="#333" stroke-width="2"/>
<text transform="translate(1102.20 1281.82) scale(1 1.05)" font-family="Liberation Sans, Arial, sans-serif" font-size="25.3" text-anchor="end" fill="#1E1E1E">INHBA</text>
<line x1="1109.20" y1="1315.20" x2="1117.90" y2="1315.20" stroke="#333" stroke-width="2"/>
<text transform="translate(1102.20 1324.30) scale(1 1.05)" font-family="Liberation Sans, Arial, sans-serif" font-size="25.3" text-anchor="end" fill="#1E1E1E">EYA4</text>
<line x1="1109.20" y1="1357.68" x2="1117.90" y2="1357.68" stroke="#333" stroke-width="2"/>
<text transform="translate(1102.20 1366.78) scale(1 1.05)" font-family="Liberation Sans, Arial, sans-serif" font-size="25.3" text-anchor="end" fill="#1E1E1E">VNN1</text>
<line x1="1109.20" y1="1400.16" x2="1117.90" y2="1400.16" stroke="#333" stroke-width="2"/>
<text transform="translate(1102.20 1409.26) scale(1 1.05)" font-family="Liberation Sans, Arial, sans-serif" font-size="25.3" text-anchor="end" fill="#1E1E1E">CYP1B1</text>
<line x1="1109.20" y1="1442.64" x2="1117.90" y2="1442.64" stroke="#333" stroke-width="2"/>
<text transform="translate(1102.20 1451.74) scale(1 1.05)" font-family="Liberation Sans, Arial, sans-serif" font-size="25.3" text-anchor="end" fill="#1E1E1E">JUN</text>
<line x1="1145.40" y1="1467.50" x2="1145.40" y2="1475.50" stroke="#333" stroke-width="2"/>
<text transform="translate(1145.40 1501.20) scale(1 1.05)" font-family="Liberation Sans, Arial, sans-serif" font-size="25.3" text-anchor="middle" fill="#2E2E2E">0</text>
<line x1="1306.46" y1="1467.50" x2="1306.46" y2="1475.50" stroke="#333" stroke-width="2"/>
<text transform="translate(1306.46 1501.20) scale(1 1.05)" font-family="Liberation Sans, Arial, sans-serif" font-size="25.3" text-anchor="middle" fill="#2E2E2E">2</text>
<line x1="1467.52" y1="1467.50" x2="1467.52" y2="1475.50" stroke="#333" stroke-width="2"/>
<text transform="translate(1467.52 1501.20) scale(1 1.05)" font-family="Liberation Sans, Arial, sans-serif" font-size="25.3" text-anchor="middle" fill="#2E2E2E">4</text>
<line x1="1628.58" y1="1467.50" x2="1628.58" y2="1475.50" stroke="#333" stroke-width="2"/>
<text transform="translate(1628.58 1501.20) scale(1 1.05)" font-family="Liberation Sans, Arial, sans-serif" font-size="25.3" text-anchor="middle" fill="#2E2E2E">6</text>
<text transform="translate(1428.90 1536.30) scale(1 1.05)" font-family="Liberation Sans, Arial, sans-serif" font-size="31" text-anchor="middle" fill="#000">Importance</text>
<text transform="translate(1788.50 940.50) scale(1 1.05)" font-family="Liberation Sans, Arial, sans-serif" font-size="31.4" text-anchor="start" fill="#000">Importance</text>
<linearGradient id="lg" x1="0" y1="1" x2="0" y2="0"><stop offset="0.000" stop-color="#008080"/><stop offset="0.050" stop-color="#2E7D7B"/><stop offset="0.100" stop-color="#427A76"/><stop offset="0.150" stop-color="#507771"/><stop offset="0.200" stop-color="#5C736C"/><stop offset="0.250" stop-color="#667067"/><stop offset="0.300" stop-color="#6F6C62"/><stop offset="0.350" stop-color="#77685D"/><stop offset="0.400" stop-color="#7F6558"/><stop offset="0.450" stop-color="#866053"/><stop offset="0.500" stop-color="#8C5C4F"/><stop offset="0.550" stop-color="#92584A"/><stop offset="0.600" stop-color="#985345"/><stop offset="0.650" stop-color="#9D4D40"/><stop offset="0.700" stop-color="#A2483C"/><stop offset="0.750" stop-color="#A74237"/><stop offset="0.800" stop-color="#AC3A32"/><stop offset="0.850" stop-color="#B1322E"/><stop offset="0.900" stop-color="#B52829"/><stop offset="0.950" stop-color="#BA1B25"/><stop offset="1.000" stop-color="#BE0020"/></linearGradient>
<rect x="1787.6" y="959.9" width="49.7" height="246" fill="url(#lg)"/>
<line x1="1787.60" y1="1200.10" x2="1797.60" y2="1200.10" stroke="#fff" stroke-width="1.6"/>
<line x1="1827.30" y1="1200.10" x2="1837.30" y2="1200.10" stroke="#fff" stroke-width="1.6"/>
<text transform="translate(1852.00 1208.90) scale(1 1.05)" font-family="Liberation Sans, Arial, sans-serif" font-size="25.3" text-anchor="start" fill="#000">1</text>
<line x1="1787.60" y1="1160.43" x2="1797.60" y2="1160.43" stroke="#fff" stroke-width="1.6"/>
<line x1="1827.30" y1="1160.43" x2="1837.30" y2="1160.43" stroke="#fff" stroke-width="1.6"/>
<text transform="translate(1852.00 1169.23) scale(1 1.05)" font-family="Liberation Sans, Arial, sans-serif" font-size="25.3" text-anchor="start" fill="#000">2</text>
<line x1="1787.60" y1="1120.76" x2="1797.60" y2="1120.76" stroke="#fff" stroke-width="1.6"/>
<line x1="1827.30" y1="1120.76" x2="1837.30" y2="1120.76" stroke="#fff" stroke-width="1.6"/>
<text transform="translate(1852.00 1129.56) scale(1 1.05)" font-family="Liberation Sans, Arial, sans-serif" font-size="25.3" text-anchor="start" fill="#000">3</text>
<line x1="1787.60" y1="1081.09" x2="1797.60" y2="1081.09" stroke="#fff" stroke-width="1.6"/>
<line x1="1827.30" y1="1081.09" x2="1837.30" y2="1081.09" stroke="#fff" stroke-width="1.6"/>
<text transform="translate(1852.00 1089.89) scale(1 1.05)" font-family="Liberation Sans, Arial, sans-serif" font-size="25.3" text-anchor="start" fill="#000">4</text>
<line x1="1787.60" y1="1041.42" x2="1797.60" y2="1041.42" stroke="#fff" stroke-width="1.6"/>
<line x1="1827.30" y1="1041.42" x2="1837.30" y2="1041.42" stroke="#fff" stroke-width="1.6"/>
<text transform="translate(1852.00 1050.22) scale(1 1.05)" font-family="Liberation Sans, Arial, sans-serif" font-size="25.3" text-anchor="start" fill="#000">5</text>
<line x1="1787.60" y1="1001.75" x2="1797.60" y2="1001.75" stroke="#fff" stroke-width="1.6"/>
<line x1="1827.30" y1="1001.75" x2="1837.30" y2="1001.75" stroke="#fff" stroke-width="1.6"/>
<text transform="translate(1852.00 1010.55) scale(1 1.05)" font-family="Liberation Sans, Arial, sans-serif" font-size="25.3" text-anchor="start" fill="#000">6</text>
<line x1="1787.60" y1="962.08" x2="1797.60" y2="962.08" stroke="#fff" stroke-width="1.6"/>
<line x1="1827.30" y1="962.08" x2="1837.30" y2="962.08" stroke="#fff" stroke-width="1.6"/>
<text transform="translate(1852.00 970.88) scale(1 1.05)" font-family="Liberation Sans, Arial, sans-serif" font-size="25.3" text-anchor="start" fill="#000">7</text>
<text x="509.5" y="1566.6" font-family="Liberation Serif, Times New Roman, serif" font-size="46" text-anchor="start" fill="#000" font-weight="bold">F</text>
<circle cx="843.3" cy="1877.7" r="271.0" fill="#6495ED" fill-opacity="0.5"/>
<circle cx="1109.9" cy="1877.7" r="271.0" fill="#BF3EFF" fill-opacity="0.5"/>
<circle cx="976.5" cy="2108.6" r="271.0" fill="#FF8C00" fill-opacity="0.5"/>
<circle cx="843.3" cy="1877.7" r="271.0" fill="none" stroke="#000" stroke-width="3.6"/>
<circle cx="1109.9" cy="1877.7" r="271.0" fill="none" stroke="#000" stroke-width="3.6"/>
<circle cx="976.5" cy="2108.6" r="271.0" fill="none" stroke="#000" stroke-width="3.6"/>
<text transform="translate(723.80 1824.50) scale(1 1.09)" font-family="Liberation Serif, Times New Roman, serif" font-size="45" text-anchor="middle" fill="#000">2</text>
<text transform="translate(976.60 1755.60) scale(1 1.09)" font-family="Liberation Serif, Times New Roman, serif" font-size="45" text-anchor="middle" fill="#000">6</text>
<text transform="translate(1228.80 1824.50) scale(1 1.09)" font-family="Liberation Serif, Times New Roman, serif" font-size="45" text-anchor="middle" fill="#000">1</text>
<text transform="translate(976.30 1969.50) scale(1 1.09)" font-family="Liberation Serif, Times New Roman, serif" font-size="45" text-anchor="middle" fill="#000">4</text>
<text transform="translate(790.20 2076.50) scale(1 1.09)" font-family="Liberation Serif, Times New Roman, serif" font-size="45" text-anchor="middle" fill="#000">2</text>
<text transform="translate(1161.90 2076.50) scale(1 1.09)" font-family="Liberation Serif, Times New Roman, serif" font-size="45" text-anchor="middle" fill="#000">2</text>
<text transform="translate(974.80 2262.00) scale(1 1.09)" font-family="Liberation Serif, Times New Roman, serif" font-size="45" text-anchor="middle" fill="#000">661</text>
<text x="727.8" y="1591.8" font-family="Liberation Serif, Times New Roman, serif" font-size="46" text-anchor="middle" fill="#6495ED" font-weight="bold">LASSO</text>
<text x="1225.3" y="1591.8" font-family="Liberation Serif, Times New Roman, serif" font-size="46" text-anchor="middle" fill="#BF3EFF" font-weight="bold">RF</text>
<text x="975.8" y="2447.2" font-family="Liberation Serif, Times New Roman, serif" font-size="46" text-anchor="middle" fill="#FF8C00" font-weight="bold">WGCNA</text>
</svg></body></html>
